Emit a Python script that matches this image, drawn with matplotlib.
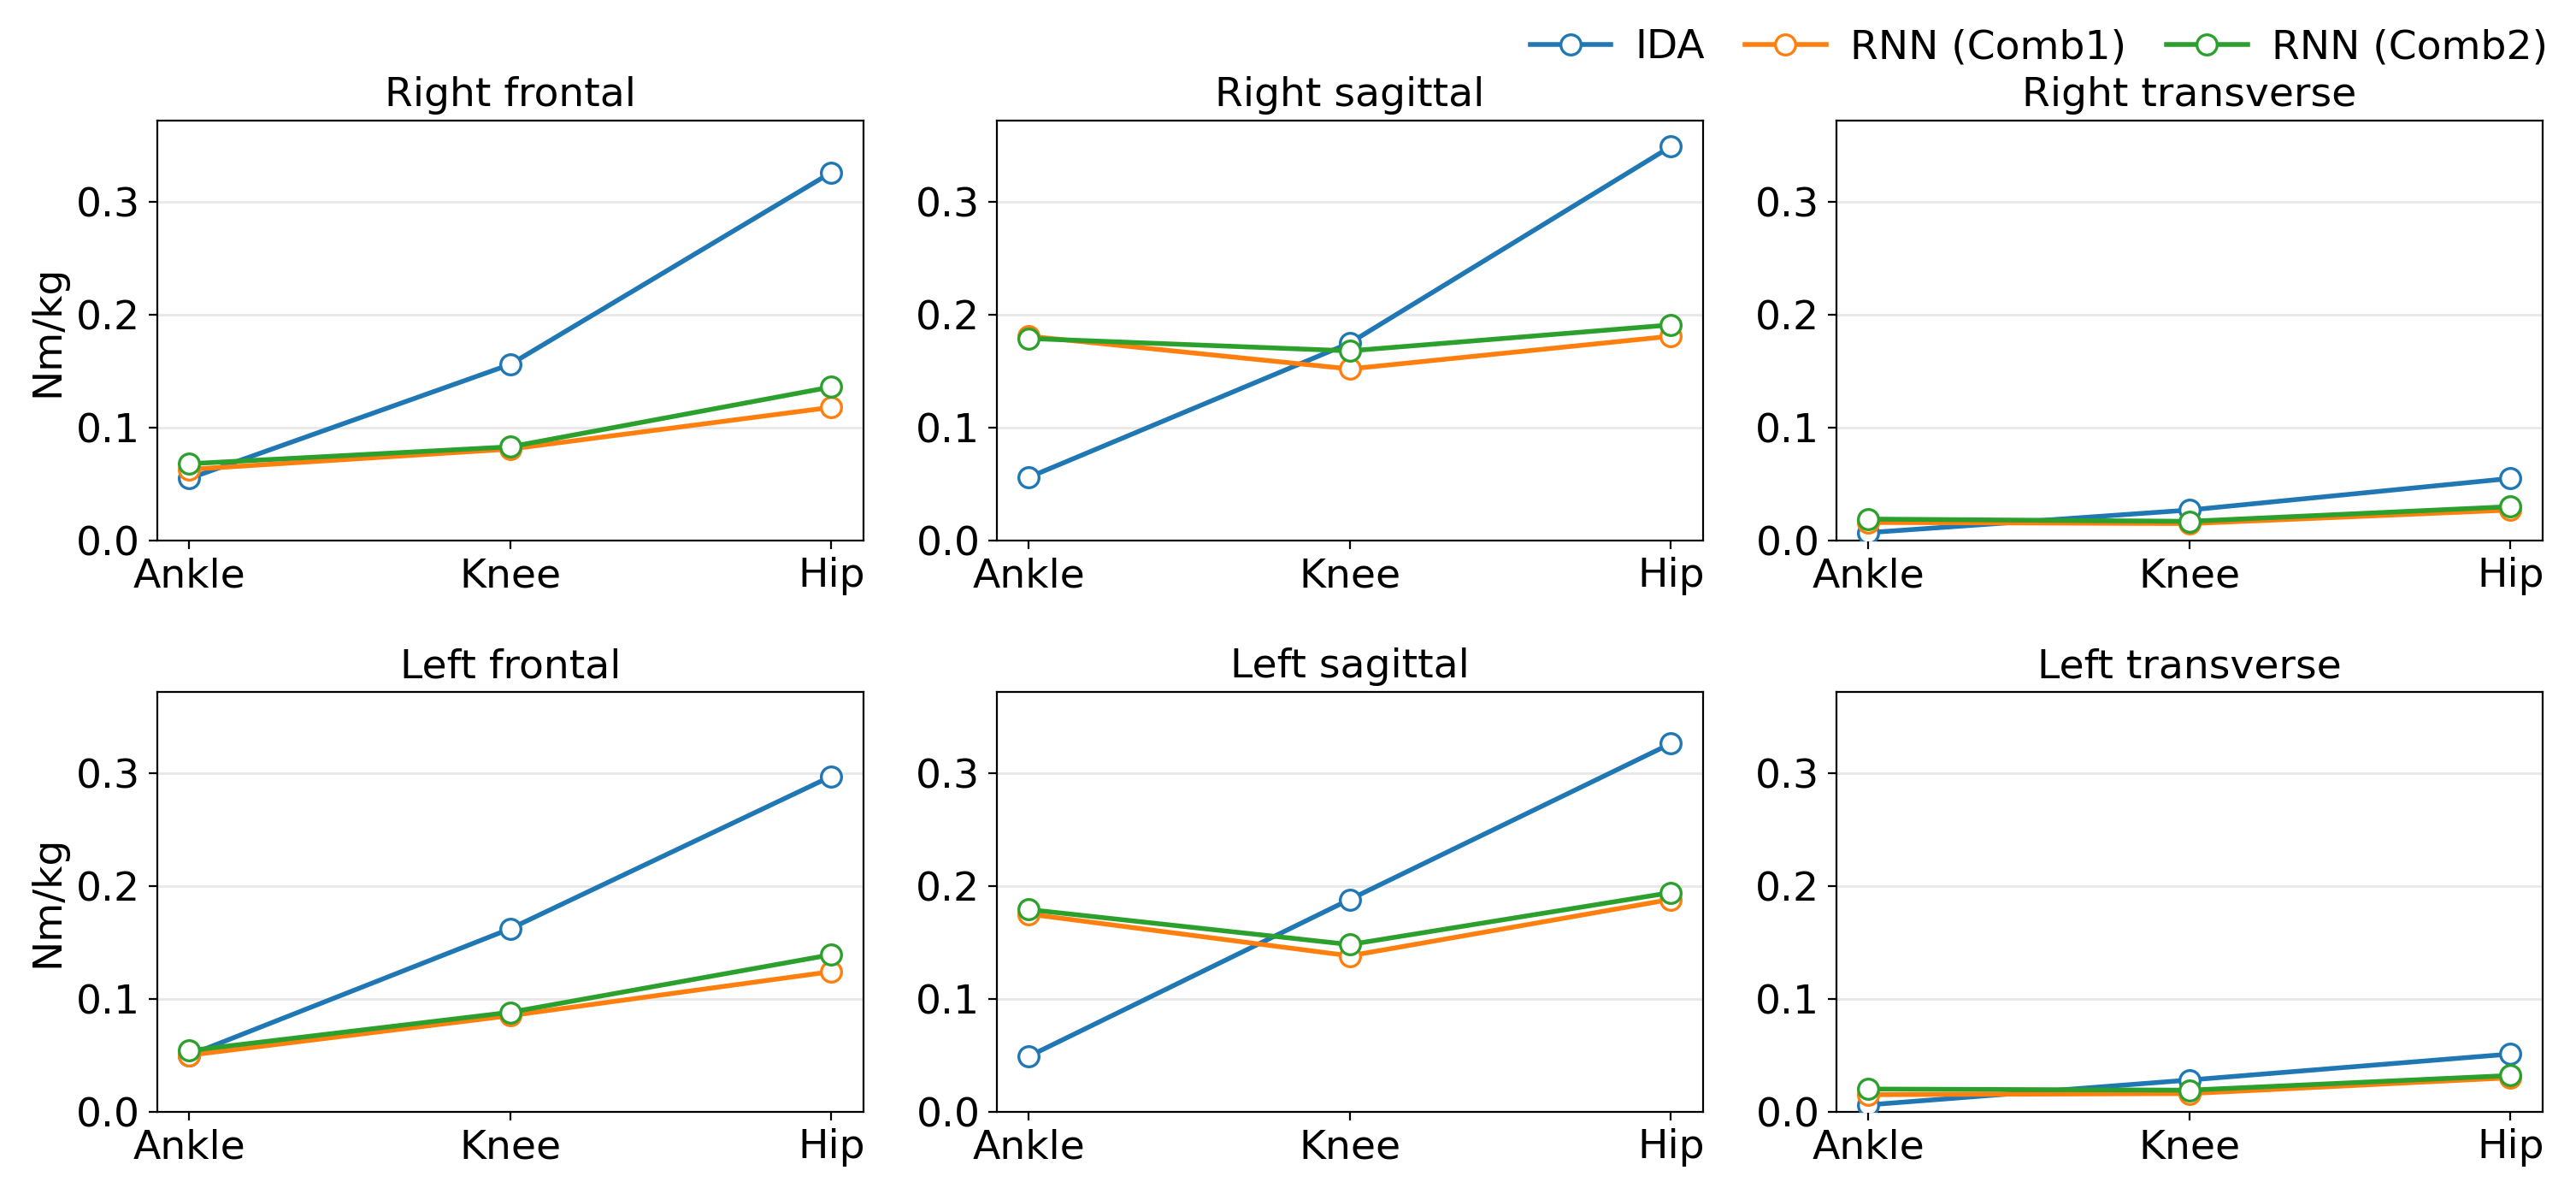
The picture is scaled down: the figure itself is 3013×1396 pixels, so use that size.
import numpy as np
import matplotlib
matplotlib.use('Agg')
import matplotlib.pyplot as plt

joints = ['Ankle', 'Knee', 'Hip']
methods = ['IDA', 'RNN (Comb1)', 'RNN (Comb2)']
colors = ['#1f77b4', '#ff7f0e', '#2ca02c']

titles = ['Right frontal', 'Right sagittal', 'Right transverse',
          'Left frontal', 'Left sagittal', 'Left transverse']

# values per panel: IDA, Comb1, Comb2 at Ankle/Knee/Hip
ida = [[0.055, 0.156, 0.326],
       [0.056, 0.175, 0.349],
       [0.007, 0.027, 0.055],
       [0.050, 0.162, 0.297],
       [0.049, 0.188, 0.326],
       [0.006, 0.028, 0.051]]
comb1 = [[0.063, 0.081, 0.118],
         [0.181, 0.152, 0.181],
         [0.016, 0.015, 0.027],
         [0.050, 0.085, 0.124],
         [0.175, 0.138, 0.188],
         [0.015, 0.016, 0.030]]
comb2 = [[0.068, 0.083, 0.136],
         [0.179, 0.168, 0.191],
         [0.019, 0.017, 0.030],
         [0.054, 0.088, 0.139],
         [0.179, 0.148, 0.194],
         [0.020, 0.019, 0.032]]

fig, axes = plt.subplots(2, 3, figsize=(15.065, 6.98), dpi=200)
plt.subplots_adjust(left=0.061, right=0.987, bottom=0.069, top=0.899,
                    wspace=0.189, hspace=0.36)

x = np.arange(len(joints))
for i, ax in enumerate(axes.flat):
    for series, name, c in zip([ida, comb1, comb2], methods, colors):
        ax.plot(x, series[i], color=c, lw=2, marker='o', markersize=8.5,
                markerfacecolor='white', markeredgecolor=c,
                markeredgewidth=1.2, label=name, zorder=3)
    ax.set_title(titles[i], fontsize=17)
    ax.set_xticks(x)
    ax.set_xticklabels(joints)
    ax.set_ylim(0, 0.372)
    ax.set_yticks([0.0, 0.1, 0.2, 0.3])
    ax.tick_params(labelsize=17)
    ax.grid(axis='y', color='#e8e8e8', lw=1)
    ax.set_axisbelow(True)
    if i % 3 == 0:
        ax.set_ylabel('Nm/kg', fontsize=17)

handles, labels = axes[0, 0].get_legend_handles_labels()
fig.legend(handles, labels, loc='upper right', bbox_to_anchor=(1.0, 1.0),
           ncol=3, frameon=False, fontsize=17, borderaxespad=0.3,
           columnspacing=1.0, handletextpad=0.6)

fig.savefig('out.png', dpi=200)
